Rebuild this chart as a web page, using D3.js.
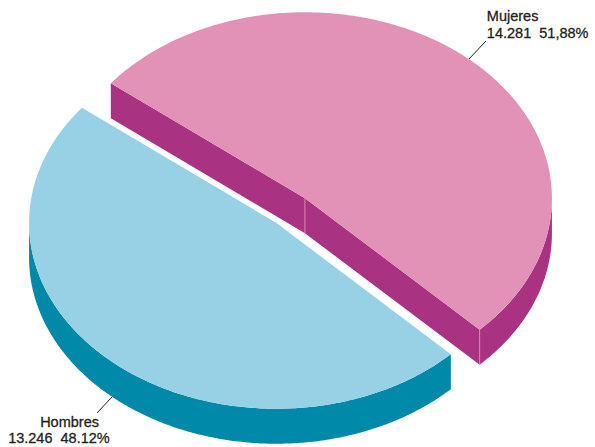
<!DOCTYPE html>
<html><head><meta charset="utf-8">
<script src="https://cdn.jsdelivr.net/npm/d3@7"></script>
<style>body{margin:0;background:#fff}svg{display:block}</style>
</head><body><svg id="c" width="595" height="447"></svg>
<script>
const categories = ["Mujeres", "Hombres"];
const values = [14281, 13246];
const valueLabels = ["14.281", "13.246"];
const percentLabels = ["51,88%", "48.12%"];
const topColors = ["#E292B6", "#98D1E5"];
const sideColors = ["#A93282", "#0089A8"];

const W = 595, H = 447;
const cx = 290.5, cy = 210.5, rx = 247, ry = 186, depth = 35, explode = 0.088;
const start = 308.2 * Math.PI / 180;

const svg = d3.select("#c");
const pie = d3.pie().sort(null).startAngle(start).endAngle(start + 2 * Math.PI);
const arcs = pie(values).map((d, i) => {
  const mid = (d.startAngle + d.endAngle) / 2;
  return Object.assign(d, {
    i, mid,
    c: { x: cx + explode * rx * Math.sin(mid), y: cy - explode * ry * Math.cos(mid) }
  });
});

const pt = (c, a, dz = 0) => [c.x + rx * Math.sin(a), c.y - ry * Math.cos(a) + dz];
const line = d3.line();
function arcPts(c, a0, a1, dz) {
  const n = Math.max(2, Math.ceil(Math.abs(a1 - a0) / 0.01));
  return d3.range(n + 1).map(k => pt(c, a0 + (a1 - a0) * k / n, dz));
}

// draw back to front
const order = arcs.slice().sort((a, b) => a.c.y - b.c.y);
order.forEach(d => {
  const g = svg.append("g");
  const c = d.c, a0 = d.startAngle, a1 = d.endAngle;
  const ctr = [c.x, c.y], ctrB = [c.x, c.y + depth];
  // cut faces
  if (Math.sin(a0) < 0) {
    const p = pt(c, a0), pb = pt(c, a0, depth);
    g.append("path").attr("d", line([ctr, p, pb, ctrB]) + "Z").attr("fill", sideColors[d.i]);
  }
  if (Math.sin(a1) > 0) {
    const p = pt(c, a1), pb = pt(c, a1, depth);
    g.append("path").attr("d", line([ctr, p, pb, ctrB]) + "Z").attr("fill", sideColors[d.i]);
  }
  // outer walls (front-facing part)
  for (let k = -1; k <= 2; k++) {
    const lo = Math.max(a0, Math.PI / 2 + 2 * Math.PI * k);
    const hi = Math.min(a1, 3 * Math.PI / 2 + 2 * Math.PI * k);
    if (hi > lo) {
      const pts = arcPts(c, lo, hi, 0).concat(arcPts(c, hi, lo, depth));
      g.append("path").attr("d", line(pts) + "Z").attr("fill", sideColors[d.i]);
    }
  }
  // vertical edge highlights
  if (Math.sin(a0) < 0 && Math.sin(a1) > 0) {
    g.append("line").attr("x1", c.x).attr("y1", c.y).attr("x2", c.x).attr("y2", c.y + depth)
      .attr("stroke", topColors[d.i]).attr("stroke-width", 0.8);
  }
  if (Math.sin(a1) > 0) {
    const p = pt(c, a1);
    g.append("line").attr("x1", p[0]).attr("y1", p[1]).attr("x2", p[0]).attr("y2", p[1] + depth)
      .attr("stroke", topColors[d.i]).attr("stroke-width", 0.8);
  }
  // top
  const topPts = [ctr].concat(arcPts(c, a0, a1, 0));
  g.append("path").attr("d", line(topPts) + "Z").attr("fill", topColors[d.i]);
});

// labels
const txtColor = "#231F20";
const labelCfg = [
  { dz: 0, dx: 17, dy: -18, lines: [[1, -20], [1, -3]] },
  { dz: depth, dx: -15, dy: 16, lines: [[-57, 14], [-89, 30]] }
];
arcs.forEach(d => {
  const cfg = labelCfg[d.i];
  const s = pt(d.c, d.mid, cfg.dz);
  const e = [s[0] + cfg.dx, s[1] + cfg.dy];
  svg.append("line").attr("x1", s[0]).attr("y1", s[1]).attr("x2", e[0]).attr("y2", e[1])
    .attr("stroke", txtColor).attr("stroke-width", 1);
  const texts = [categories[d.i], valueLabels[d.i] + "\u00a0\u00a0" + percentLabels[d.i]];
  texts.forEach((t, j) => {
    svg.append("text").attr("x", e[0] + cfg.lines[j][0]).attr("y", e[1] + cfg.lines[j][1])
      .attr("font-family", "Liberation Sans, Arial, sans-serif").attr("font-size", 14.5)
      .attr("fill", txtColor).attr("stroke", txtColor).attr("stroke-width", 0.3)
      .text(t);
  });
});
</script></body></html>
